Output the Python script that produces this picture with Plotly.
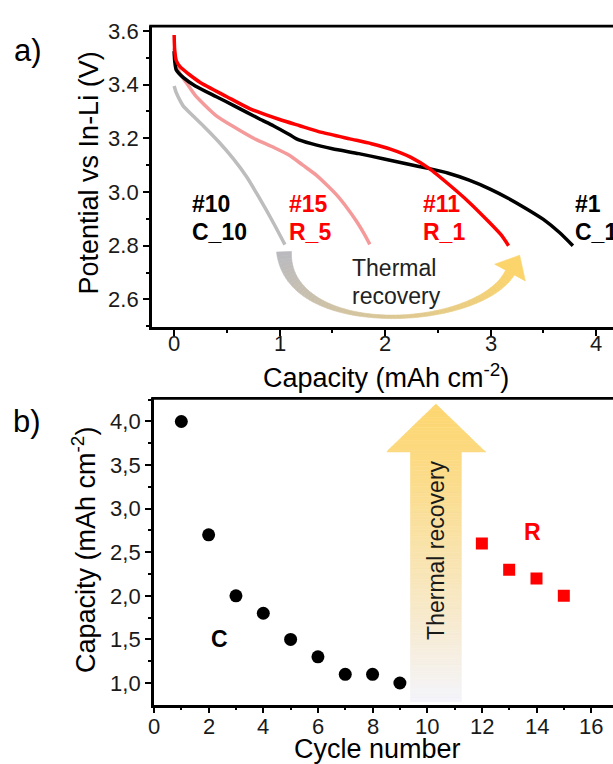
import numpy as np
import plotly.graph_objects as go

W, H = 613, 764
FONT = "Liberation Sans, Arial, sans-serif"

# ---- panel a: discharge curves, capacity (mAh cm-2) vs potential (V) ----
cap_c1 = [0.0, 0.005, 0.02, 0.088, 0.2, 0.4, 0.57, 0.81, 0.94, 1.10, 1.16, 1.3, 1.5, 1.75,
          1.98, 2.2, 2.42, 2.6, 2.79, 3.0, 3.17, 3.35, 3.5, 3.65, 3.78]
v_c1 = [3.525, 3.49, 3.455, 3.426, 3.395, 3.355, 3.321, 3.272, 3.247, 3.212, 3.198, 3.18, 3.161,
        3.143, 3.124, 3.105, 3.087, 3.07, 3.045, 3.01, 2.976, 2.935, 2.898, 2.85, 2.80]

cap_r1 = [0.0, 0.005, 0.02, 0.06, 0.24, 0.5, 0.72, 1.0, 1.19, 1.4, 1.665, 1.87, 2.05, 2.24,
          2.42, 2.61, 2.79, 2.98, 3.1, 3.17]
v_r1 = [3.585, 3.53, 3.49, 3.465, 3.41, 3.355, 3.31, 3.27, 3.247, 3.222, 3.198, 3.18, 3.16,
        3.13, 3.087, 3.026, 2.964, 2.89, 2.84, 2.80]

cap_r5 = [0.0, 0.01, 0.05, 0.116, 0.2, 0.4, 0.6, 0.78, 0.95, 1.096, 1.22, 1.35, 1.45, 1.54,
          1.65, 1.73, 1.8, 1.855]
v_r5 = [3.535, 3.49, 3.444, 3.407, 3.36, 3.284, 3.235, 3.195, 3.165, 3.136, 3.10, 3.062, 3.025,
        2.989, 2.935, 2.89, 2.845, 2.805]

cap_c10 = [0.0, 0.02, 0.05, 0.085, 0.18, 0.275, 0.42, 0.56, 0.69, 0.81, 0.93, 1.05]
v_c10 = [3.395, 3.37, 3.345, 3.321, 3.283, 3.247, 3.188, 3.124, 3.055, 2.976, 2.893, 2.804]

a_xticks = [0, 1, 2, 3, 4]

# ---- panel b: capacity per cycle ----
cycle_c = [1, 2, 3, 4, 5, 6, 7, 8, 9]
capacity_c = [4.0, 2.7, 2.0, 1.8, 1.5, 1.3, 1.1, 1.1, 1.0]
cycle_r = [12, 13, 14, 15]
capacity_r = [2.6, 2.3, 2.2, 2.0]

b_xticks = [0, 2, 4, 6, 8, 10, 12, 14, 16]
b_yticks = [1.0, 1.5, 2.0, 2.5, 3.0, 3.5, 4.0]
b_yticktext = ["1,0", "1,5", "2,0", "2,5", "3,0", "3,5", "4,0"]

# ---- frame geometry (pixels) ----
A_LEFT, A_TOP, A_BOTTOM = 152, 19.3, 322.7
B_LEFT, B_TOP, B_BOTTOM = 154, 395, 704
A_XR, A_YR = [-0.21, 4.16], [2.498, 3.618]
B_XR, B_YR = [0.0, 16.8], [0.753, 4.265]
LW = 2.8


def a_data(px, py):
    x = A_XR[0] + (px - A_LEFT) / (W - A_LEFT) * (A_XR[1] - A_XR[0])
    y = A_YR[1] - (py - A_TOP) / (A_BOTTOM - A_TOP) * (A_YR[1] - A_YR[0])
    return x, y


def b_data(px, py):
    x = B_XR[0] + (px - B_LEFT) / (W - B_LEFT) * (B_XR[1] - B_XR[0])
    y = B_YR[1] - (py - B_TOP) / (B_BOTTOM - B_TOP) * (B_YR[1] - B_YR[0])
    return x, y


def mix(c0, c1, t):
    return "rgb(%d,%d,%d)" % tuple(round(a + (b - a) * t) for a, b in zip(c0, c1))


fig = go.Figure()

for xs, ys, col, w in [
    (cap_c10, v_c10, "#bdbdbd", 3.5),
    (cap_r5, v_r5, "#f59a9a", 3.5),
    (cap_c1, v_c1, "#000000", 3.5),
    (cap_r1, v_r1, "#ff0000", 3.5),
]:
    fig.add_trace(go.Scatter(x=xs, y=ys, mode="lines", line=dict(color=col, width=w, shape="spline",
                                                                 smoothing=0.6),
                             xaxis="x", yaxis="y", showlegend=False, hoverinfo="skip"))

fig.add_trace(go.Scatter(x=cycle_c, y=capacity_c, mode="markers",
                         marker=dict(symbol="circle", size=13, color="black"),
                         xaxis="x2", yaxis="y2", showlegend=False))
fig.add_trace(go.Scatter(x=cycle_r, y=capacity_r, mode="markers",
                         marker=dict(symbol="square", size=12, color="#ff0000"),
                         xaxis="x2", yaxis="y2", showlegend=False))

shapes = []

# top edge of both frames (left and bottom edges are the axis lines)
for left_px, top_px in [(A_LEFT, A_TOP), (B_LEFT, B_TOP)]:
    shapes.append(dict(type="line", xref="paper", yref="paper", x0=(left_px - LW) / W, x1=1.0,
                       y0=1 - top_px / H, y1=1 - top_px / H, line=dict(color="black", width=LW)))

# curved "thermal recovery" arrow in panel a (gradient gray -> yellow)
P0, C1, C2, P3 = np.array([284, 247.0]), np.array([288, 336.0]), np.array([478, 326.0]), np.array([510, 268.0])
N = 70
ts = np.linspace(0, 1, N + 1)
pts = np.array([(1 - t) ** 3 * P0 + 3 * (1 - t) ** 2 * t * C1 + 3 * (1 - t) * t ** 2 * C2 + t ** 3 * P3 for t in ts])
tan = np.array([3 * (1 - t) ** 2 * (C1 - P0) + 6 * (1 - t) * t * (C2 - C1) + 3 * t ** 2 * (P3 - C2) for t in ts])
tan /= np.linalg.norm(tan, axis=1)[:, None]
nrm = np.stack([-tan[:, 1], tan[:, 0]], axis=1)


def width(t):
    return 3.5 + (15 - 3.5) * (1 - 2 * t) ** 2 if t < 0.5 else 3.5 + (10 - 3.5) * (2 * t - 1) ** 2


gray, yellow = (186, 186, 192), (251, 212, 108)
for i in range(N):
    w0, w1 = width(ts[i]) / 2, width(ts[i + 1]) / 2
    quad = [pts[i] + nrm[i] * w0, pts[i + 1] + nrm[i + 1] * w1,
            pts[i + 1] - nrm[i + 1] * w1, pts[i] - nrm[i] * w0]
    d = [a_data(*q) for q in quad]
    col = mix(gray, yellow, (ts[i] + ts[i + 1]) / 2)
    path = "M " + " L ".join("%.5f,%.5f" % p for p in d) + " Z"
    shapes.append(dict(type="path", path=path, xref="x", yref="y", fillcolor=col,
                       line=dict(color=col, width=0.6), layer="below"))

head_dir, head_n = tan[-1], nrm[-1]
tip = P3 + head_dir * 20
hl, hr = P3 + head_n * 17.5, P3 - head_n * 17.5
d = [a_data(*q) for q in (tip, hl, hr)]
shapes.append(dict(type="path", path="M " + " L ".join("%.5f,%.5f" % p for p in d) + " Z",
                   xref="x", yref="y", fillcolor="rgb(251,212,108)",
                   line=dict(color="rgb(251,212,108)", width=0.6), layer="below"))

# vertical gradient arrow in panel b
SH_L, SH_R, SH_TOP, SH_BOT = 410.5, 461.3, 449, 701
HD_L, HD_R, HD_TIP = 387, 486, 400.7
CX = (SH_L + SH_R) / 2


def half_w(py):
    if py >= SH_TOP:
        return (SH_R - SH_L) / 2
    return (HD_R - HD_L) / 2 * (py - HD_TIP) / (SH_TOP - HD_TIP)


top_col, bot_col = (253, 214, 112), (244, 244, 251)
M = 90
ys = np.linspace(HD_TIP, SH_BOT, M + 1)
for i in range(M):
    ya, yb = ys[i], ys[i + 1]
    if ya < SH_TOP < yb:
        poly = [(CX - half_w(ya), ya), (CX + half_w(ya), ya), (HD_R, SH_TOP), (SH_R, SH_TOP),
                (SH_R, yb), (SH_L, yb), (SH_L, SH_TOP), (HD_L, SH_TOP)]
    else:
        poly = [(CX - half_w(ya), ya), (CX + half_w(ya), ya), (CX + half_w(yb), yb),
                (CX - half_w(yb), yb)]
    t = ((ya + yb) / 2 - HD_TIP) / (SH_BOT - HD_TIP)
    col = mix(top_col, bot_col, min(1, t ** 1.2))
    d = [b_data(*q) for q in poly]
    shapes.append(dict(type="path", path="M " + " L ".join("%.5f,%.5f" % p for p in d) + " Z",
                       xref="x2", yref="y2", fillcolor=col, line=dict(color=col, width=0.6),
                       layer="below"))

annotations = []


def ann(text, x, y, xref, yref, size, color="black", bold=False, xanchor="left", yanchor="middle",
        angle=0):
    if bold:
        text = "<b>%s</b>" % text
    annotations.append(dict(text=text, x=x, y=y, xref=xref, yref=yref, showarrow=False,
                            font=dict(family=FONT, size=size, color=color), xanchor=xanchor,
                            yanchor=yanchor, textangle=angle))


def paper(px, py):
    return px / W, 1 - py / H


# x tick labels placed close under each axis
for v in a_xticks:
    ann(str(v), v, 1 - 340 / H, "x", "paper", 22, "#1a1a1a", xanchor="center")
for v in b_xticks:
    ann(str(v), v, 1 - 726 / H, "x2", "paper", 22, "#1a1a1a", xanchor="center")

# curve labels, panel a
for txt, px, py, col in [("#10", 190, 199, "black"), ("C_10", 190, 227.5, "black"),
                         ("#15", 286.5, 199, "#ff0000"), ("R_5", 286.5, 227.5, "#ff0000"),
                         ("#11", 421, 199, "#ff0000"), ("R_1", 421, 227.5, "#ff0000"),
                         ("#1", 573, 199, "black"), ("C_1", 573, 227.5, "black")]:
    x, y = a_data(px, py)
    ann(txt, x, y, "x", "y", 23, col, bold=True)

x, y = a_data(350, 263)
ann("Thermal", x, y, "x", "y", 23, "#222222")
x, y = a_data(350, 292)
ann("recovery", x, y, "x", "y", 23, "#222222")

# panel b labels
x, y = b_data(219, 638)
ann("C", x, y, "x2", "y2", 23, "black", bold=True, xanchor="center")
x, y = b_data(532, 530)
ann("R", x, y, "x2", "y2", 23, "#ff0000", bold=True, xanchor="center")
x, y = b_data(CX, 548)
ann("Thermal recovery", x, y, "x2", "y2", 23, "#1a1a1a", xanchor="center", angle=-90)

# axis titles and panel letters
for txt, px, py, ang in [
    ("Potential vs In-Li (V)", 89, 168, -90),
    ("Capacity (mAh cm<sup>-2</sup>)", 386, 372, 0),
    ("Capacity (mAh cm<sup>-2</sup>)", 84, 548, -90),
    ("Cycle number", 377, 749, 0),
]:
    x, y = paper(px, py)
    ann(txt, x, y, "paper", "paper", 27, "black", xanchor="center", angle=ang)

for txt, px, py in [("a)", 28, 44), ("b)", 27, 418)]:
    x, y = paper(px, py)
    ann(txt, x, y, "paper", "paper", 31, "black", xanchor="center")

axis_common = dict(showline=True, linecolor="black", linewidth=LW, ticks="outside", ticklen=6,
                   tickwidth=2, tickcolor="black", showgrid=False, zeroline=False,
                   tickfont=dict(family=FONT, size=22, color="#1a1a1a"))
minor_common = dict(ticks="outside", ticklen=3, tickwidth=2, tickcolor="black")

fig.update_layout(
    width=W, height=H, margin=dict(l=0, r=0, t=0, b=0),
    paper_bgcolor="white", plot_bgcolor="white",
    font=dict(family=FONT),
    xaxis=dict(domain=[A_LEFT / W, 1], range=A_XR, anchor="y", tickmode="array",
               tickvals=a_xticks, showticklabels=False,
               minor=dict(dtick=0.5, tick0=0, **minor_common), **axis_common),
    yaxis=dict(domain=[1 - A_BOTTOM / H, 1 - A_TOP / H], range=A_YR, anchor="x", tick0=2.6,
               dtick=0.2, tickformat=".1f", minor=dict(dtick=0.1, tick0=2.6, **minor_common),
               **axis_common),
    xaxis2=dict(domain=[B_LEFT / W, 1], range=B_XR, anchor="y2", tickmode="array",
                tickvals=b_xticks, showticklabels=False,
                minor=dict(dtick=1, tick0=0, **minor_common), **axis_common),
    yaxis2=dict(domain=[1 - B_BOTTOM / H, 1 - B_TOP / H], range=B_YR, anchor="x2",
                tickmode="array", tickvals=b_yticks, ticktext=b_yticktext,
                minor=dict(dtick=0.25, tick0=0.75, **minor_common), **axis_common),
    shapes=shapes,
    annotations=annotations,
)

fig.write_html("out.html")
